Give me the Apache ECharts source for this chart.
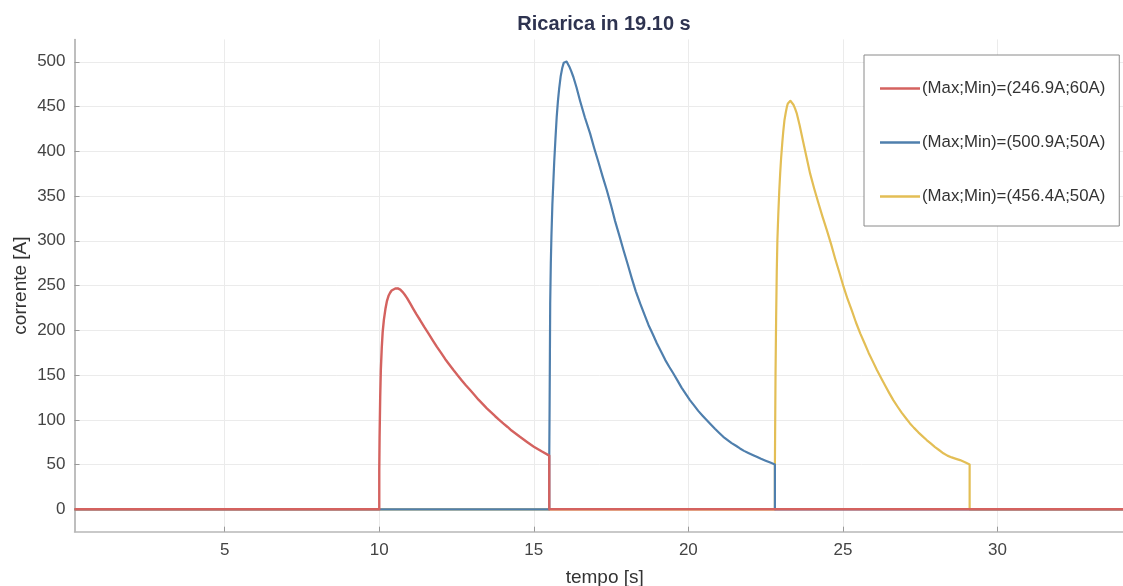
<!DOCTYPE html>
<html>
<head>
<meta charset="utf-8">
<script src="https://cdn.jsdelivr.net/npm/echarts@6/dist/echarts.min.js"></script>
<style>
html,body{margin:0;padding:0;background:#fff;}
#chart{width:1123px;height:586px;}
</style>
</head>
<body>
<div id="chart"></div>
<script>
// ---- data ----
const titleText = 'Ricarica in 19.10 s';
const xName = 'tempo [s]';
const yName = 'corrente [A]';
const seriesNames = ['(Max;Min)=(246.9A;60A)', '(Max;Min)=(500.9A;50A)', '(Max;Min)=(456.4A;50A)'];

const redT = [0.14, 10.0, 10.0, 10.01, 10.03, 10.05, 10.08, 10.11, 10.15, 10.2, 10.25, 10.3, 10.35, 10.4, 10.45, 10.52, 10.6, 10.68, 10.75, 10.82, 10.9, 11.0, 11.1, 11.2, 11.32, 11.46, 11.6, 11.73, 11.86, 12.0, 12.13, 12.27, 12.4, 12.54, 12.67, 12.8, 12.94, 13.08, 13.21, 13.35, 13.48, 13.62, 13.75, 13.88, 14.01, 14.15, 14.28, 14.42, 14.55, 14.78, 15.0, 15.25, 15.5, 15.5, 34.5];
const redV = [0, 0, 44, 80, 125, 155, 180, 198, 212, 224, 233, 238.5, 242, 244.5, 246, 246.7, 246.9, 245.5, 243, 240, 236, 230, 224, 218, 211.5, 203.5, 196, 188.8, 181.7, 174.8, 168, 161.6, 155.6, 149.6, 144, 138.6, 133.3, 127.8, 122.5, 117.5, 112.8, 108.3, 104, 100, 96, 92, 88, 84.5, 81, 75.3, 70, 64.8, 60, 0, 0];

const blueT = [0.14, 15.5, 15.5, 15.51, 15.52, 15.53, 15.55, 15.57, 15.6, 15.63, 15.66, 15.7, 15.74, 15.78, 15.82, 15.87, 15.92, 15.97, 16.02, 16.06, 16.1, 16.15, 16.21, 16.28, 16.38, 16.5, 16.65, 16.82, 16.95, 17.09, 17.22, 17.36, 17.5, 17.63, 17.77, 17.9, 18.04, 18.17, 18.3, 18.44, 18.58, 18.71, 18.85, 18.98, 19.12, 19.25, 19.38, 19.51, 19.65, 19.78, 19.92, 20.05, 20.19, 20.32, 20.46, 20.59, 20.72, 20.86, 21.0, 21.13, 21.27, 21.4, 21.54, 21.67, 21.8, 21.94, 22.08, 22.21, 22.35, 22.5, 22.65, 22.8, 22.8, 34.5];
const blueV = [0, 0, 60, 110, 170, 230, 275, 305, 340, 364, 388, 414, 438, 456, 470, 484, 493, 499, 500.9, 500.3, 498.5, 494.5, 489.5, 483, 471.5, 456, 438, 420, 404, 388, 372.5, 356.8, 339.5, 322, 305.5, 289.7, 273.5, 258, 243.5, 230, 217.5, 206, 195.5, 185.5, 176, 167, 159.3, 152, 143.8, 136, 128.8, 122, 115.8, 110, 104.6, 99.8, 95, 90, 85.3, 81, 77.3, 74, 71, 68, 65.3, 63, 60.8, 58.8, 56.5, 54.3, 52.2, 50, 0, 0];

const yellowT = [0.14, 22.8, 22.8, 22.81, 22.82, 22.84, 22.86, 22.88, 22.91, 22.94, 22.97, 23.0, 23.04, 23.07, 23.11, 23.15, 23.19, 23.22, 23.26, 23.3, 23.35, 23.4, 23.45, 23.51, 23.6, 23.7, 23.82, 23.94, 24.07, 24.2, 24.34, 24.48, 24.62, 24.75, 24.89, 25.02, 25.15, 25.29, 25.42, 25.56, 25.7, 25.83, 25.97, 26.1, 26.24, 26.37, 26.5, 26.63, 26.77, 26.9, 27.04, 27.17, 27.3, 27.44, 27.58, 27.71, 27.85, 27.98, 28.12, 28.25, 28.38, 28.52, 28.66, 28.79, 28.95, 29.1, 29.1, 34.5];
const yellowV = [0, 0, 50, 100, 150, 215, 265, 300, 330, 355, 375, 392, 410, 422, 435, 443, 450, 453.5, 455.5, 456.4, 455, 452, 448, 442, 429, 413, 394, 375, 358.5, 343, 327, 312, 296, 280, 264, 248.7, 235, 222, 209, 196.6, 185.5, 175, 165, 155.6, 146.5, 138, 129.8, 122, 114.6, 108, 101.8, 96, 91, 86, 81.5, 77.4, 73.3, 69.5, 66, 62.6, 60, 58, 56.4, 55, 52.5, 50, 0, 0];

const xMin = 0.14, xMax = 34.45;
const yMin = -25, yMax = 525;

function pairs(t, v) { return t.map((x, i) => [x, v[i]]); }

const colors = ['#D4625F', '#4F7FAD', '#E3BE55'];
const chart = echarts.init(document.getElementById('chart'));
const font = '"Liberation Sans", Arial, Helvetica, sans-serif';

chart.setOption({
  animation: false,
  backgroundColor: '#ffffff',
  textStyle: { fontFamily: font },
  title: {
    text: titleText,
    left: 604,
    textAlign: 'center',
    top: 14,
    padding: 0,
    textStyle: { fontFamily: font, fontSize: 20, fontWeight: 'bold', color: '#2E3350', lineHeight: 20 }
  },
  legend: {
    orient: 'vertical',
    left: 864,
    top: 55,
    data: seriesNames,
    icon: 'rect',
    itemWidth: 40,
    itemHeight: 2.5,
    itemGap: 37,
    padding: [25, 14, 21, 16],
    backgroundColor: '#ffffff',
    borderColor: '#8a8a8a',
    borderWidth: 1,
    textStyle: { fontFamily: font, fontSize: 16.8, color: '#333', padding: [0, 0, 0, -3], lineHeight: 16 }
  },
  grid: { left: 74.5, right: -12, top: 39.4, bottom: 54.3, containLabel: false, outerBoundsMode: 'none' },
  xAxis: {
    type: 'value',
    min: xMin,
    max: xMax,
    splitNumber: 7,
    name: xName,
    nameLocation: 'middle',
    nameGap: 37,
    nameMoveOverlap: false,
    nameTextStyle: { fontFamily: font, fontSize: 19, color: '#333' },
    axisLine: { show: true, onZero: false, lineStyle: { color: '#b8b8b8', width: 1.5 } },
    axisTick: { show: true, inside: true, length: 5, lineStyle: { color: '#999' } },
    axisLabel: {
      fontFamily: font, fontSize: 17, color: '#444', margin: 10,
      showMinLabel: false, showMaxLabel: false,
      formatter: v => (Math.abs(v % 5) < 1e-6 && v > 0) ? String(v) : ''
    },
    splitLine: { show: true, showMinLine: false, showMaxLine: false, lineStyle: { color: '#ebebeb', width: 1 } }
  },
  yAxis: {
    type: 'value',
    min: yMin,
    max: yMax,
    splitNumber: 11,
    name: yName,
    nameLocation: 'middle',
    nameGap: 44,
    nameMoveOverlap: false,
    nameTextStyle: { fontFamily: font, fontSize: 19, color: '#333' },
    axisLine: { show: true, onZero: false, lineStyle: { color: '#a8a8a8', width: 1.5 } },
    axisTick: { show: true, inside: true, length: 5, lineStyle: { color: '#999' } },
    axisLabel: {
      fontFamily: font, fontSize: 17, color: '#444', margin: 9,
      showMinLabel: false, showMaxLabel: false,
      formatter: v => (Math.abs(v % 50) < 1e-6) ? String(v) : ''
    },
    splitLine: { show: true, showMinLine: false, showMaxLine: false, lineStyle: { color: '#ebebeb', width: 1 } }
  },
  series: [
    { name: seriesNames[0], type: 'line', data: pairs(redT, redV), showSymbol: false, z: 5,
      lineStyle: { color: colors[0], width: 2.4, join: 'round' }, itemStyle: { color: colors[0] } },
    { name: seriesNames[1], type: 'line', data: pairs(blueT, blueV), showSymbol: false, z: 4,
      lineStyle: { color: colors[1], width: 2.2, join: 'round' }, itemStyle: { color: colors[1] } },
    { name: seriesNames[2], type: 'line', data: pairs(yellowT, yellowV), showSymbol: false, z: 3,
      lineStyle: { color: colors[2], width: 2.2, join: 'round' }, itemStyle: { color: colors[2] } }
  ]
});
</script>
</body>
</html>
